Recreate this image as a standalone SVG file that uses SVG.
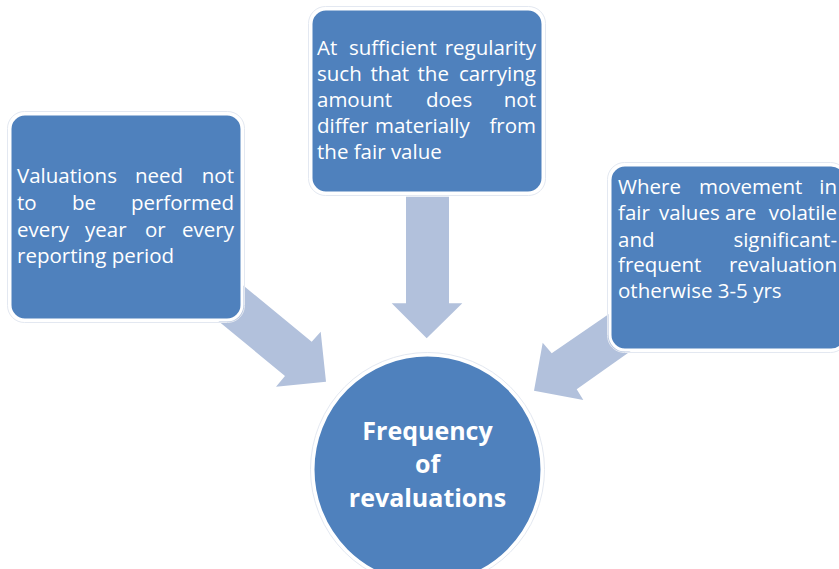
<svg xmlns="http://www.w3.org/2000/svg" width="839" height="569" viewBox="0 0 839 569">
<style>
.box{fill:#4F81BD;stroke:#FFFFFF;stroke-width:3}
.halo{fill:none;stroke:#E3E8F1;stroke-width:1}
.arrow{fill:#B2C1DC}
.t{font-family:"Open Sans","Liberation Sans",sans-serif;font-size:20.5px;fill:#FFFFFF}
.e{text-anchor:end}
.c{font-family:"Open Sans","Liberation Sans",sans-serif;font-size:25px;font-weight:bold;fill:#FFFFFF;text-anchor:middle}
</style>
<rect width="839" height="569" fill="#FFFFFF"/>
<g id="connectors">
<polygon class="arrow" points="222,268 311.7,341.7 320.7,331.7 326,381.7 276,386.7 285,376 200,306"/>
<polygon class="arrow" points="406,196.7 449,196.7 449,303.3 462.3,303.3 426.7,338.3 391.7,303.3 406,303.3"/>
<polygon class="arrow" points="630,299.5 551.7,353.3 542.7,342.7 534,390.7 583.3,400 576.7,389.3 652,336"/>
</g>
<g id="node-left">
<rect class="halo" x="7.5" y="111.5" width="237" height="211" rx="17"/>
<rect class="box" x="10" y="114" width="232" height="206" rx="15"/>
<text class="t" x="17" y="183">Valuations</text><text class="t" x="135" y="183">need</text><text class="t e" x="234" y="183">not</text>
<text class="t" x="17" y="210">to</text><text class="t" x="72" y="210">be</text><text class="t e" x="234" y="210">performed</text>
<text class="t" x="17" y="236.5">every</text><text class="t" x="85" y="236.5">year</text><text class="t" x="145" y="236.5">or</text><text class="t e" x="234" y="236.5">every</text>
<text class="t" x="17" y="263">reporting period</text>
</g>
<g id="node-top">
<rect class="halo" x="308.5" y="6.5" width="237" height="189" rx="17"/>
<rect class="box" x="311" y="9" width="232" height="184" rx="15"/>
<text class="t" x="317" y="55">At</text><text class="t" x="349" y="55">sufficient</text><text class="t e" x="536" y="55">regularity</text>
<text class="t" x="317" y="81">such</text><text class="t" x="370.5" y="81">that</text><text class="t" x="417.5" y="81">the</text><text class="t e" x="536" y="81">carrying</text>
<text class="t" x="317" y="107">amount</text><text class="t" x="426" y="107">does</text><text class="t e" x="536" y="107">not</text>
<text class="t" x="317" y="133">differ</text><text class="t" x="375" y="133">materially</text><text class="t e" x="536" y="133">from</text>
<text class="t" x="317" y="159">the fair value</text>
</g>
<g id="node-right">
<rect class="halo" x="607.5" y="162.5" width="240" height="190" rx="17"/>
<rect class="box" x="610" y="165" width="236" height="185" rx="15"/>
<text class="t" x="618" y="194">Where</text><text class="t" x="699" y="194">movement</text><text class="t e" x="837" y="194">in</text>
<text class="t" x="618" y="220">fair</text><text class="t" x="659" y="220">values</text><text class="t" x="725" y="220">are</text><text class="t e" x="837" y="220">volatile</text>
<text class="t" x="618" y="246.5">and</text><text class="t e" x="837" y="246.5">significant-</text>
<text class="t" x="618" y="272">frequent</text><text class="t e" x="837" y="272">revaluation</text>
<text class="t" x="618" y="298">otherwise 3-5 yrs</text>
</g>
<g id="node-center">
<circle cx="427.5" cy="469.5" r="117" fill="none" stroke="#E3E8F1" stroke-width="1"/>
<circle cx="427.5" cy="469.5" r="114.5" fill="#4F81BD" stroke="#FFFFFF" stroke-width="3"/>
<text class="c" x="427.5" y="440">Frequency</text>
<text class="c" x="427.5" y="473">of</text>
<text class="c" x="427.5" y="506.5">revaluations</text>
</g>
</svg>
